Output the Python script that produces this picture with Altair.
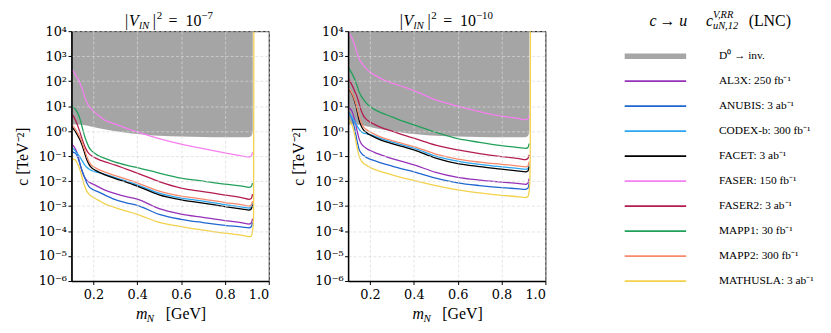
import altair as alt
import pandas as pd

FONT = "Liberation Serif"
TICK_FONT = "DejaVu Serif"

# ---------------- data (log10 of c [TeV^-2]) ----------------
M_GRID = [0.100, 0.110, 0.120, 0.130, 0.140, 0.150, 0.160, 0.170, 0.180, 0.190, 0.200,
          0.220, 0.250, 0.300, 0.350, 0.400, 0.500, 0.600, 0.700, 0.800, 0.880, 0.910,
          0.920, 0.926]

SERIES = ["AL3X: 250 fb⁻¹", "ANUBIS: 3 ab⁻¹", "CODEX-b: 300 fb⁻¹", "FACET: 3 ab⁻¹",
          "FASER: 150 fb⁻¹", "FASER2: 3 ab⁻¹", "MAPP1: 30 fb⁻¹", "MAPP2: 300 fb⁻¹",
          "MATHUSLA: 3 ab⁻¹"]
COLORS = ["#9632b8", "#1f66d0", "#2aa6f2", "#000000", "#f57ff0", "#b31d4d", "#21a05a",
          "#f78a6c", "#f2d24c"]

# panel |V|^2 = 1e-7
P1_AL3X     = [-0.50, -0.60, -0.75, -0.98, -1.35, -1.65, -1.85, -1.97, -2.04, -2.09, -2.13, -2.22, -2.35, -2.50, -2.62, -2.72, -3.10, -3.32, -3.45, -3.58, -3.67, -3.72, -3.68, -3.50]
P1_ANUBIS   = [-0.80, -0.85, -0.90, -1.08, -1.35, -1.62, -1.85, -2.08, -2.22, -2.30, -2.35, -2.42, -2.55, -2.74, -2.87, -2.97, -3.33, -3.53, -3.66, -3.77, -3.84, -3.87, -3.83, -3.66]
P1_CODEXB   = [-0.65, -0.72, -0.82, -0.93, -1.05, -1.20, -1.35, -1.45, -1.52, -1.57, -1.60, -1.65, -1.72, -1.86, -2.00, -2.15, -2.48, -2.68, -2.80, -2.94, -3.04, -3.08, -3.04, -2.88]
P1_FACET    = [0.18, 0.08, -0.05, -0.20, -0.38, -0.60, -0.88, -1.15, -1.33, -1.45, -1.52, -1.62, -1.74, -1.90, -2.04, -2.20, -2.55, -2.75, -2.88, -3.02, -3.12, -3.16, -3.12, -2.95]
P1_FASER    = [2.45, 2.38, 2.22, 2.10, 1.88, 1.68, 1.38, 1.15, 1.00, 0.90, 0.80, 0.65, 0.45, 0.28, 0.12, -0.03, -0.30, -0.52, -0.70, -0.87, -1.00, -1.03, -1.00, -0.85]
P1_FASER2   = [0.68, 0.58, 0.40, 0.18, -0.08, -0.35, -0.60, -0.78, -0.90, -0.98, -1.03, -1.12, -1.22, -1.36, -1.52, -1.68, -2.02, -2.28, -2.42, -2.56, -2.67, -2.73, -2.70, -2.52]
P1_MAPP1    = [1.02, 0.95, 0.85, 0.70, 0.45, 0.12, -0.20, -0.45, -0.65, -0.77, -0.85, -0.97, -1.08, -1.24, -1.36, -1.46, -1.68, -1.88, -2.00, -2.12, -2.20, -2.25, -2.22, -2.08]
P1_MAPP2    = [0.25, 0.17, 0.05, -0.10, -0.27, -0.48, -0.75, -1.02, -1.22, -1.35, -1.42, -1.52, -1.63, -1.78, -1.92, -2.07, -2.40, -2.60, -2.72, -2.86, -2.95, -3.00, -2.96, -2.80]
P1_MATHUSLA = [-1.07, -1.12, -1.18, -1.35, -1.58, -1.90, -2.20, -2.40, -2.52, -2.60, -2.66, -2.75, -2.90, -3.06, -3.20, -3.33, -3.65, -3.82, -3.96, -4.08, -4.17, -4.22, -4.20, -4.00]

# panel |V|^2 = 1e-10
P2_AL3X     = [1.02, 0.90, 0.75, 0.45, 0.05, -0.30, -0.50, -0.60, -0.67, -0.73, -0.77, -0.85, -0.95, -1.10, -1.22, -1.35, -1.65, -1.85, -1.96, -2.04, -2.10, -2.13, -2.09, -1.90]
P2_ANUBIS   = [0.78, 0.65, 0.45, 0.10, -0.35, -0.72, -0.88, -0.97, -1.03, -1.08, -1.12, -1.18, -1.27, -1.40, -1.52, -1.63, -1.88, -2.07, -2.18, -2.26, -2.31, -2.33, -2.29, -2.10]
P2_CODEXB   = [0.75, 0.65, 0.52, 0.38, 0.22, 0.08, -0.02, -0.08, -0.10, -0.12, -0.14, -0.20, -0.30, -0.44, -0.56, -0.68, -1.00, -1.20, -1.33, -1.43, -1.50, -1.53, -1.50, -1.33]
P2_FACET    = [1.72, 1.60, 1.45, 1.20, 0.85, 0.45, 0.20, 0.05, -0.03, -0.10, -0.15, -0.24, -0.36, -0.50, -0.62, -0.75, -1.08, -1.30, -1.42, -1.52, -1.60, -1.63, -1.60, -1.42]
P2_FASER    = [3.95, 3.85, 3.68, 3.45, 3.15, 2.90, 2.75, 2.64, 2.52, 2.43, 2.36, 2.25, 2.10, 1.92, 1.78, 1.62, 1.25, 1.00, 0.78, 0.60, 0.50, 0.46, 0.50, 0.63]
P2_FASER2   = [2.13, 1.98, 1.80, 1.60, 1.40, 1.12, 0.82, 0.62, 0.50, 0.42, 0.36, 0.27, 0.15, 0.00, -0.15, -0.28, -0.56, -0.75, -0.90, -1.02, -1.10, -1.14, -1.10, -0.95]
P2_MAPP1    = [2.55, 2.42, 2.27, 2.08, 1.85, 1.58, 1.40, 1.27, 1.15, 1.06, 0.98, 0.87, 0.74, 0.57, 0.40, 0.25, -0.05, -0.30, -0.45, -0.58, -0.66, -0.69, -0.66, -0.50]
P2_MAPP2    = [1.75, 1.63, 1.48, 1.25, 0.95, 0.60, 0.33, 0.17, 0.08, 0.02, -0.03, -0.12, -0.24, -0.38, -0.50, -0.62, -0.92, -1.12, -1.24, -1.33, -1.40, -1.43, -1.40, -1.22]
P2_MATHUSLA = [0.50, 0.35, 0.20, -0.15, -0.60, -1.00, -1.18, -1.28, -1.35, -1.40, -1.45, -1.53, -1.62, -1.75, -1.87, -1.97, -2.18, -2.35, -2.47, -2.57, -2.63, -2.66, -2.62, -2.40]

# MATHUSLA curve turns vertical at the kinematic end point
TAIL_M = [0.929, 0.931, 0.932]
P1_TAIL = [-3.80, -3.00, 5.00]
P2_TAIL = [-2.00, -1.00, 5.00]

# D0 -> invisible excluded region (lower boundary, log10 c), same in both panels
D0_M   = [0.100, 0.150, 0.200, 0.250, 0.300, 0.350, 0.400, 0.450, 0.500, 0.600, 0.700, 0.800, 0.900, 0.915, 0.922, 0.927]
D0_LOW = [0.27, 0.25, 0.16, 0.07, -0.01, -0.07, -0.12, -0.16, -0.19, -0.22, -0.24, -0.25, -0.25, -0.23, -0.17, -0.04]
D0_TOP = 4.0

LEG_LABELS = ["D⁰ → inv."] + SERIES
LEG_COLORS = ["#a6a6a6"] + COLORS
LEG_WIDTHS = [5.5] + [1.8] * 9

Y_LABELS = ["10⁻⁶", "10⁻⁵", "10⁻⁴", "10⁻³", "10⁻²", "10⁻¹", "10⁰", "10¹", "10²", "10³", "10⁴"]
X_TICKS = [0.2, 0.4, 0.6, 0.8, 1.0]

# ---------------- tables ----------------
P1 = [P1_AL3X, P1_ANUBIS, P1_CODEXB, P1_FACET, P1_FASER, P1_FASER2, P1_MAPP1, P1_MAPP2, P1_MATHUSLA]
P2 = [P2_AL3X, P2_ANUBIS, P2_CODEXB, P2_FACET, P2_FASER, P2_FASER2, P2_MAPP1, P2_MAPP2, P2_MATHUSLA]


def lines_table(arrays, tail):
    rows = []
    for name, vals in zip(SERIES, arrays):
        for m, v in zip(M_GRID, vals):
            rows.append({"m": m, "c": 10.0 ** v, "series": name})
        if name.startswith("MATHUSLA"):
            for m, v in zip(TAIL_M, tail):
                rows.append({"m": m, "c": 10.0 ** v, "series": name})
    return pd.DataFrame(rows)


gray_df = pd.DataFrame({"m": D0_M, "low": [10.0 ** v for v in D0_LOW],
                        "high": [10.0 ** D0_TOP] * len(D0_M)})

x_scale = alt.Scale(domain=[0.1, 1.0], nice=False, zero=False)
y_scale = alt.Scale(type="log", domain=[1e-6, 1e4], nice=False)

label_expr = "[" + ",".join("'%s'" % s for s in Y_LABELS) + "][round(log(datum.value)/LN10)+6]"

x_axis = alt.Axis(values=X_TICKS, format=".1f", title=None, labelFont=TICK_FONT, labelFontSize=13,
                  labelPadding=4, tickSize=3.5, tickColor="black", domainColor="black",
                  domainWidth=1.5, grid=True, gridColor="#d9d9d9", gridDash=[3, 2],
                  gridWidth=0.7, labelColor="black", zindex=1)
y_axis = alt.Axis(values=[10.0 ** k for k in range(-6, 5)], labelExpr=label_expr,
                  title="c [TeV⁻²]", titleFont=FONT, titleFontSize=16, titleFontWeight="normal",
                  titlePadding=8, titleColor="black", labelFont=TICK_FONT, labelFontSize=13,
                  labelPadding=1.5, tickSize=3.5, tickColor="black", domainColor="black",
                  domainWidth=1.5, grid=True, gridColor="#d9d9d9", gridDash=[3, 2],
                  gridWidth=0.7, labelColor="black", zindex=1)


def txt(text, x, y, size, italic=False, align="left"):
    return alt.Chart(alt.Data(values=[{"k": 1}])).mark_text(
        text=text, font=FONT, fontSize=size, fontStyle="italic" if italic else "normal",
        align=align, baseline="alphabetic", color="black"
    ).encode(x=alt.value(x), y=alt.value(y))


def panel(arrays, tail, exponent, shift):
    df = lines_table(arrays, tail)
    area = alt.Chart(gray_df).mark_area(color="#7a7a7a", opacity=0.68, clip=True,
                                        interpolate="monotone").encode(
        x=alt.X("m:Q", scale=x_scale, axis=x_axis),
        y=alt.Y("low:Q", scale=y_scale, axis=y_axis),
        y2="high:Q",
    )
    lines = alt.Chart(df).mark_line(strokeWidth=1.3, clip=True, interpolate="monotone").encode(
        x=alt.X("m:Q", scale=x_scale, axis=x_axis),
        y=alt.Y("c:Q", scale=y_scale, axis=y_axis),
        color=alt.Color("series:N", scale=alt.Scale(domain=SERIES, range=COLORS), legend=None),
    )
    s = shift
    title = [
        txt("|", 54 + s, -5, 16),
        txt("V", 58 + s, -5, 16, italic=True),
        txt("lN", 68 + s, -2, 11, italic=True),
        txt("|", 82 + s, -5, 16),
        txt("2", 86 + s, -12, 11),
        txt("=", 98 + s, -5, 16),
        txt("10", 115 + s, -5, 16),
        txt(exponent, 131 + s, -12, 11),
    ]
    xtitle = [
        txt("m", 65, 290, 16, italic=True),
        txt("N", 76, 293, 11, italic=True),
        txt("[GeV]", 95, 290, 16),
    ]
    return alt.layer(area, lines, *title, *xtitle).properties(width=199, height=252)


p1 = panel(P1, P1_TAIL, "−7", 0)
p2 = panel(P2, P2_TAIL, "−10", -2)

leg_df = pd.DataFrame({"label": LEG_LABELS, "row": list(range(1, 11)), "w": LEG_WIDTHS})
leg_y = alt.Y("row:Q", scale=alt.Scale(domain=[0, 10], reverse=True), axis=None)
leg_rules = alt.Chart(leg_df).mark_rule().encode(
    x=alt.value(0), x2=alt.value(62), y=leg_y,
    color=alt.Color("label:N", scale=alt.Scale(domain=LEG_LABELS, range=LEG_COLORS), legend=None),
    strokeWidth=alt.StrokeWidth("w:Q", scale=None, legend=None),
)
leg_text = alt.Chart(leg_df).mark_text(align="left", baseline="middle", font=FONT,
                                       fontSize=11.5, color="black").encode(
    x=alt.value(95), y=leg_y, text="label:N")
leg_title = [
    txt("c", 25, -5, 16, italic=True),
    txt("→", 35, -5, 16),
    txt("u", 55, -5, 16, italic=True),
    txt("c", 82, -5, 16, italic=True),
    txt("V,RR", 89, -13, 10.5, italic=True),
    txt("uN,12", 89, -2, 10.5, italic=True),
    txt("(LNC)", 125, -5, 16),
]
legend = alt.layer(leg_rules, leg_text, *leg_title).properties(
    width=200, height=252, view=alt.ViewBackground(stroke=None))

chart = alt.hconcat(p1, p2, legend, spacing=80, bounds="flush").resolve_scale(
    color="independent"
).properties(
    padding={"left": 5, "top": 0, "right": 0, "bottom": 0}
).configure_view(stroke="black", strokeWidth=1)

chart.save("out.html", embed_options={"renderer": "svg", "actions": False})
